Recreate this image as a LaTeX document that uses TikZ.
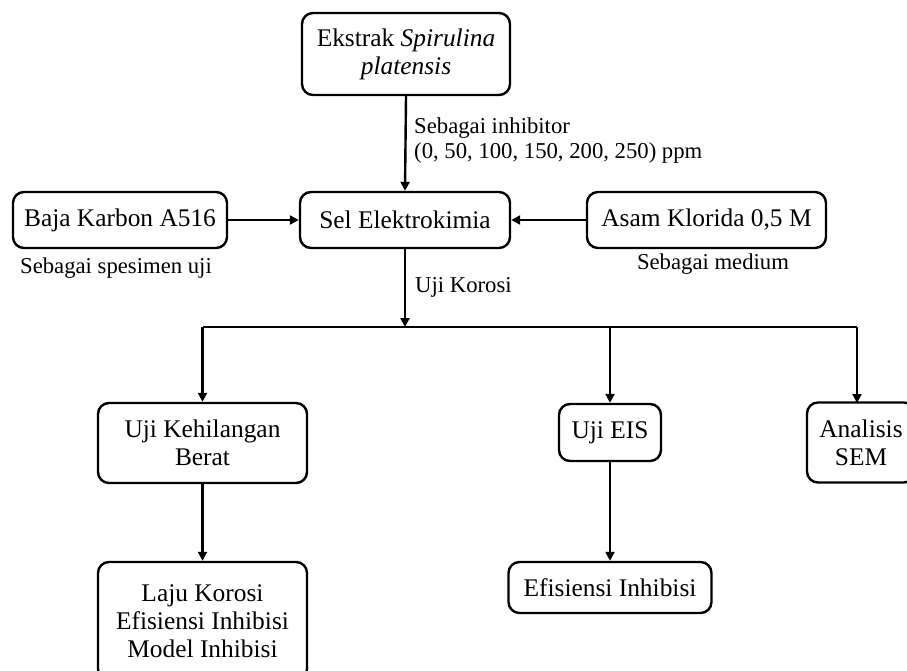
\documentclass[tikz,border=0pt]{standalone}
\usepackage{fontspec}
\setmainfont{Liberation Serif}
\usetikzlibrary{arrows.meta}

\begin{document}
\begin{tikzpicture}[
    x=1pt, y=-1pt,
    line width=2.4pt,
    % Stil kotak proses
    proc/.style={draw, rounded corners=11pt, align=center, inner sep=0pt,
        font=\fontsize{25.4}{28}\selectfont},
    % Stil keterangan di samping panah
    note/.style={align=left, inner sep=0pt, font=\fontsize{22.7}{25}\selectfont},
    % Stil panah
    arr/.style={-{Triangle[length=9pt,width=9pt]}}
]
\clip (0,0) rectangle (907,671);

% --- BARIS ATAS ---
\node[proc, minimum width=208pt, minimum height=82pt] (ekstrak) at (406,54)
    {Ekstrak \textit{Spirulina}\\\textit{platensis}};

% --- BARIS TENGAH ---
\node[proc, minimum width=210pt, minimum height=56pt] (sel) at (405,220) {Sel Elektrokimia};
\node[proc, minimum width=214pt, minimum height=56pt] (baja) at (120,220) {Baja Karbon A516};
\node[proc, minimum width=239pt, minimum height=56pt] (asam) at (706.5,220) {Asam Klorida 0,5 M};

% --- CABANG UJI ---
\coordinate (bus) at (405,327);
\node[proc, minimum width=209pt, minimum height=80pt] (kehilangan) at (202.5,443)
    {Uji Kehilangan\\Berat};
\node[proc, minimum width=102pt, minimum height=57pt] (eis) at (610,432.5) {Uji EIS};
\node[proc, minimum width=108pt, minimum height=80pt] (sem) at (861,442.5)
    {Analisis\\SEM};
\coordinate (semtop) at (857,403);

% --- HASIL ---
\node[proc, minimum width=209pt, minimum height=118pt] (laju) at (202.5,621)
    {Laju Korosi\\Efisiensi Inhibisi\\Model Inhibisi};
\node[proc, minimum width=203pt, minimum height=51pt] (efisiensi) at (610,587.5)
    {Efisiensi Inhibisi};

% --- KETERANGAN ---
\node[note, anchor=west] (inhib) at (413,141)
    {Sebagai inhibitor\\(0, 50, 100, 150, 200, 250) ppm};
\node[note, anchor=west] (korosi) at (414,287) {Uji Korosi};
\node[note] (spesimen) at (116,268) {Sebagai spesimen uji};
\node[note] (medium) at (713,264) {Sebagai medium};

% --- PANAH ---
\draw[arr] (ekstrak.south) -- (sel.north);
\draw[arr] (baja) -- (sel);
\draw[arr] (asam) -- (sel);
\draw[arr] (sel.south) -- (bus);
\draw (kehilangan.north |- bus) -- (semtop |- bus);
\draw[arr] (kehilangan.north |- bus) -- (kehilangan.north);
\draw[arr] (eis.north |- bus) -- (eis.north);
\draw[arr] (semtop |- bus) -- (semtop);
\draw[arr] (kehilangan) -- (laju);
\draw[arr] (eis) -- (efisiensi);

\end{tikzpicture}
\end{document}
